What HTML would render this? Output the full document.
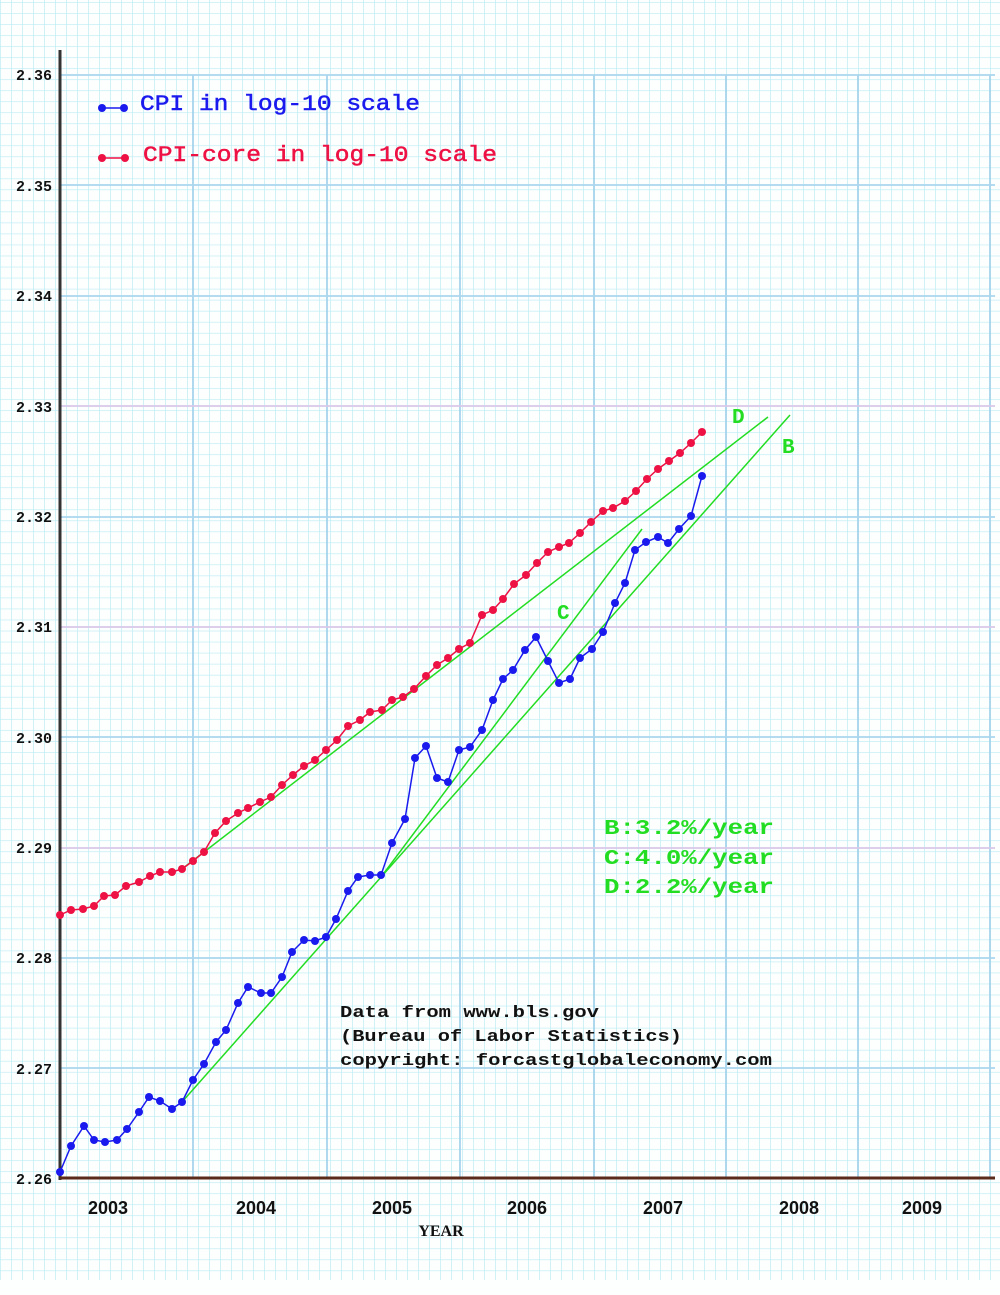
<!DOCTYPE html>
<html><head><style>
html,body{margin:0;padding:0;background:#fff;}
svg{display:block;}
</style></head><body>
<svg width="1000" height="1295" xmlns="http://www.w3.org/2000/svg">
<defs>
<pattern id="minor" width="11" height="11.03" patternUnits="userSpaceOnUse" x="0" y="2">
<path d="M0 0H11M0 0V11.03" stroke="#b8ecf3" stroke-width="1.3" fill="none"/>
</pattern>
</defs>
<rect width="1000" height="1295" fill="#fdfefe"/>
<rect width="1000" height="1280" fill="url(#minor)"/>
<g stroke="#9ccfea" stroke-width="1.6">
<line x1="193" y1="75" x2="193" y2="1178"/><line x1="327" y1="75" x2="327" y2="1178"/>
<line x1="460" y1="75" x2="460" y2="1178"/><line x1="594" y1="75" x2="594" y2="1178"/>
<line x1="726" y1="75" x2="726" y2="1178"/><line x1="858" y1="75" x2="858" y2="1178"/>
<line x1="990" y1="75" x2="990" y2="1178"/>
</g>
<g stroke="#a9d6ee" stroke-width="1.8">
<line x1="60" y1="75" x2="995" y2="75"/><line x1="60" y1="185" x2="995" y2="185"/>
<line x1="60" y1="296" x2="995" y2="296"/><line x1="60" y1="406" x2="995" y2="406" stroke="#d8c8ea"/>
<line x1="60" y1="517" x2="995" y2="517"/><line x1="60" y1="627" x2="995" y2="627" stroke="#d8c8ea"/>
<line x1="60" y1="737" x2="995" y2="737"/><line x1="60" y1="848" x2="995" y2="848" stroke="#d8c8ea"/>
<line x1="60" y1="958" x2="995" y2="958"/><line x1="60" y1="1068" x2="995" y2="1068"/>
</g>
<line x1="60" y1="50" x2="60" y2="1180" stroke="#333" stroke-width="3"/>
<line x1="60" y1="1178" x2="995" y2="1178" stroke="#5a2a1a" stroke-width="3"/>
<g font-family="Liberation Mono, monospace" font-weight="bold" font-size="15" fill="#111" text-anchor="end">
<text x="52" y="80">2.36</text><text x="52" y="191">2.35</text><text x="52" y="301">2.34</text>
<text x="52" y="412">2.33</text><text x="52" y="522">2.32</text><text x="52" y="632">2.31</text>
<text x="52" y="743">2.30</text><text x="52" y="853">2.29</text><text x="52" y="963">2.28</text>
<text x="52" y="1074">2.27</text><text x="52" y="1184">2.26</text>
</g>
<g font-family="Liberation Sans, sans-serif" font-weight="bold" font-size="18" fill="#111" text-anchor="middle">
<text x="108" y="1214">2003</text><text x="256" y="1214">2004</text><text x="392" y="1214">2005</text>
<text x="527" y="1214">2006</text><text x="663" y="1214">2007</text><text x="799" y="1214">2008</text><text x="922" y="1214">2009</text>
</g>
<text x="441" y="1236" font-family="Liberation Serif, serif" font-weight="bold" font-size="16" text-anchor="middle" fill="#111">YEAR</text>
<g stroke="#22dd22" stroke-width="1.5">
<line x1="182" y1="869" x2="768" y2="417"/>
<line x1="182" y1="1102" x2="790" y2="415"/>
<line x1="381" y1="877" x2="642" y2="529"/>
</g>
<g font-family="Liberation Mono, monospace" font-weight="bold" font-size="21" fill="#22dd22">
<text x="732" y="423">D</text><text x="782" y="453">B</text><text x="557" y="619">C</text>
<text x="604" y="834" textLength="170" lengthAdjust="spacingAndGlyphs">B:3.2%/year</text>
<text x="604" y="864" textLength="170" lengthAdjust="spacingAndGlyphs">C:4.0%/year</text>
<text x="604" y="893" textLength="170" lengthAdjust="spacingAndGlyphs">D:2.2%/year</text>
</g>
<g font-family="Liberation Mono, monospace" font-weight="bold" font-size="17" fill="#111">
<text x="340" y="1017" textLength="259" lengthAdjust="spacingAndGlyphs">Data from www.bls.gov</text>
<text x="340" y="1041" textLength="342" lengthAdjust="spacingAndGlyphs">(Bureau of Labor Statistics)</text>
<text x="340" y="1065" textLength="432" lengthAdjust="spacingAndGlyphs">copyright: forcastglobaleconomy.com</text>
</g>
<polyline fill="none" stroke="#ee1144" stroke-width="1.5" points="60,915 71,910 83,909 94,906 104,896 115,895 126,886 139,882 150,876 160,872 172,872 182,869 193,861 204,852 215,833 226,821 238,813 248,808 260,802 271,797 282,785 293,775 304,766 315,760 326,750 337,740 348,726 360,720 370,712 382,710 392,700 403,697 414,689 426,676 437,665 448,658 459,649 470,643 482,615 493,610 503,599 514,584 526,575 537,563 548,552 559,547 569,543 580,533 591,522 603,511 613,508 625,501 636,491 647,479 658,469 669,461 680,453 691,443 702,432"/>
<polyline fill="none" stroke="#1a1aee" stroke-width="1.5" points="60,1172 71,1146 84,1126 94,1140 105,1142 117,1140 127,1129 139,1112 149,1097 160,1101 172,1109 182,1102 193,1080 204,1064 216,1042 226,1030 238,1003 248,987 261,993 271,993 282,977 292,952 304,940 315,941 326,937 336,919 348,891 358,877 370,875 381,875 392,843 405,819 415,758 426,746 437,778 448,782 459,750 470,747 482,730 493,700 503,679 513,670 525,650 536,637 548,661 559,683 570,679 580,658 592,649 603,632 615,603 625,583 635,550 646,542 658,537 668,543 679,529 691,516 702,476"/>
<script>
function dots(pts,col){var s=document.querySelector('svg');pts.trim().split(/\s+/).forEach(function(p){var a=p.split(',');var c=document.createElementNS('http://www.w3.org/2000/svg','circle');c.setAttribute('cx',a[0]);c.setAttribute('cy',a[1]);c.setAttribute('r','4');c.setAttribute('fill',col);s.appendChild(c);});}
var pl=document.querySelectorAll('polyline');
dots(pl[0].getAttribute('points'),'#ee1144');
dots(pl[1].getAttribute('points'),'#1a1aee');
</script>
<g>
<line x1="102" y1="108" x2="124" y2="108" stroke="#1a1aee" stroke-width="1.5"/>
<circle cx="102" cy="108" r="4" fill="#1a1aee"/><circle cx="124" cy="108" r="4" fill="#1a1aee"/>
<line x1="102" y1="158" x2="125" y2="158" stroke="#ee1144" stroke-width="1.5"/>
<circle cx="102" cy="158" r="4" fill="#ee1144"/><circle cx="125" cy="158" r="4" fill="#ee1144"/>
<text x="140" y="110" font-family="Liberation Mono, monospace" font-size="22" fill="#1a1aee" stroke="#1a1aee" stroke-width="0.5" textLength="280" lengthAdjust="spacingAndGlyphs">CPI in log-10 scale</text>
<text x="143" y="161" font-family="Liberation Mono, monospace" font-size="22" fill="#ee1144" stroke="#ee1144" stroke-width="0.5" textLength="354" lengthAdjust="spacingAndGlyphs">CPI-core in log-10 scale</text>
</g>
</svg>
</body></html>
